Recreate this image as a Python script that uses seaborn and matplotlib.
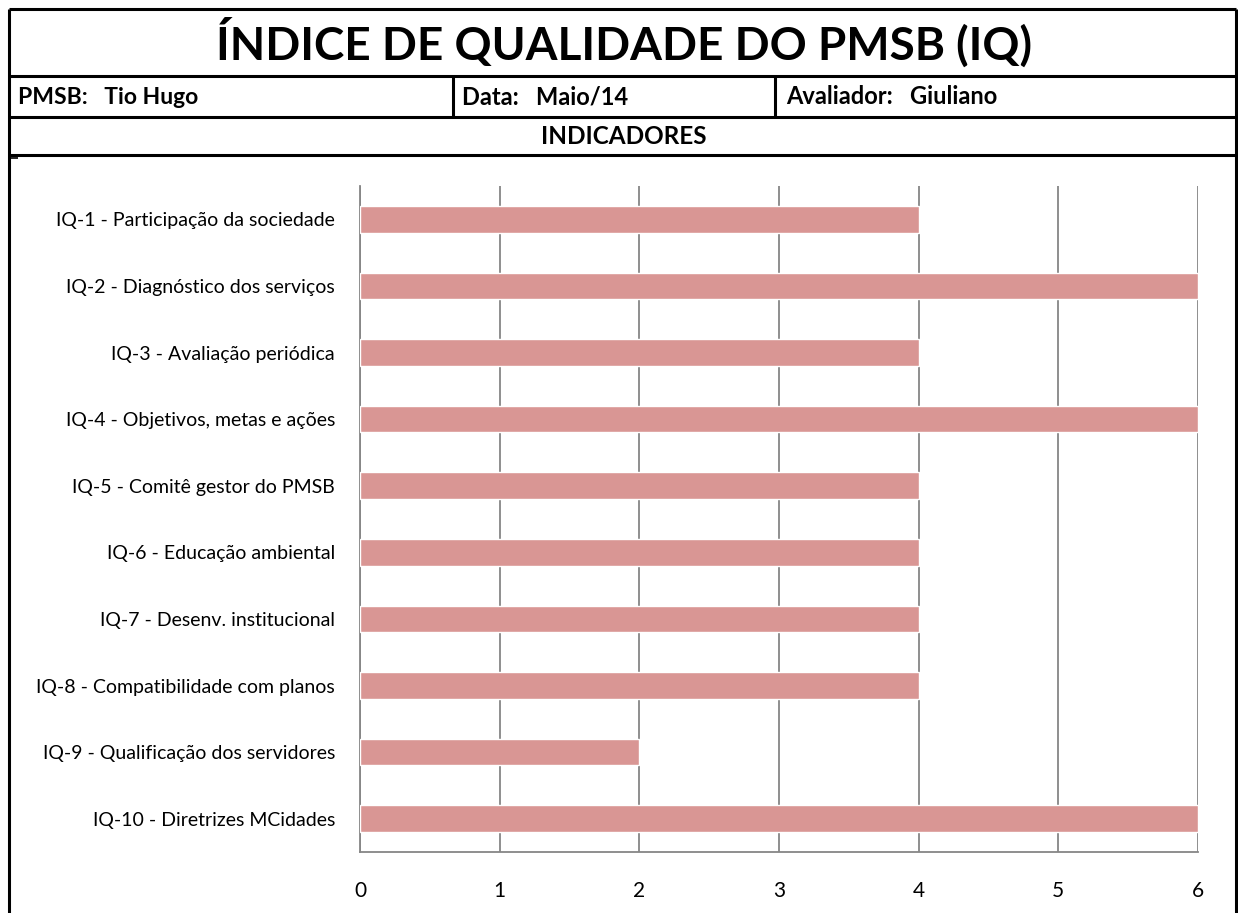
import matplotlib
matplotlib.use("Agg")
import matplotlib.pyplot as plt
import seaborn as sns
from matplotlib.lines import Line2D

# data
indicadores = [
    "IQ-1 - Participação da sociedade",
    "IQ-2 - Diagnóstico dos serviços",
    "IQ-3 - Avaliação periódica",
    "IQ-4 - Objetivos, metas e ações",
    "IQ-5 - Comitê gestor do PMSB",
    "IQ-6 - Educação ambiental",
    "IQ-7 - Desenv. institucional",
    "IQ-8 - Compatibilidade com planos",
    "IQ-9 - Qualificação dos servidores",
    "IQ-10 - Diretrizes MCidades",
]
notas = [4, 6, 4, 6, 4, 4, 4, 4, 2, 6]
x_ticks = [0, 1, 2, 3, 4, 5, 6]

titulo = "ÍNDICE DE QUALIDADE DO PMSB (IQ)"
pmsb = "PMSB:   Tio Hugo"
data_txt = "Data:   Maio/14"
avaliador = "Avaliador:   Giuliano"
secao = "INDICADORES"

sns.set_theme(style="white")
plt.rcParams['font.family'] = ['Lato', 'DejaVu Sans']
plt.rcParams['text.color'] = 'black'
plt.rcParams['xtick.color'] = 'black'
plt.rcParams['ytick.color'] = 'black'

W, H = 1238, 913
fig = plt.figure(figsize=(W / 100, H / 100), dpi=100)


def fx(x):
    return x / W


def fy(y):
    return 1 - y / H


def linha(x0, y0, x1, y1, lw=2.2):
    fig.add_artist(Line2D([fx(x0), fx(x1)], [fy(y0), fy(y1)], color='black',
                          lw=lw, transform=fig.transFigure, solid_capstyle='butt'))


# frame of the sheet
linha(9, 9, 1236, 9)
linha(9, 9, 9, 913)
linha(1236, 9, 1236, 913)
linha(9, 76, 1236, 76)
linha(9, 117, 1236, 117)
linha(9, 155, 1236, 155)
linha(453, 76, 453, 117)
linha(775, 76, 775, 117)
linha(9, 158, 18, 158, lw=1.2)

fig.text(fx(624), fy(43), titulo, ha='center', va='center',
         fontsize=33, fontweight='bold')
fig.text(fx(18), fy(97), pmsb, ha='left', va='center', fontsize=16.5, fontweight='bold')
fig.text(fx(462), fy(97), data_txt, ha='left', va='center', fontsize=17, fontweight='bold')
fig.text(fx(786), fy(97), avaliador, ha='left', va='center', fontsize=17, fontweight='bold')
fig.text(fx(624), fy(137), secao, ha='center', va='center', fontsize=17.5, fontweight='bold')

# bar chart
ax = fig.add_axes([fx(360), fy(852), (1198 - 360) / W, (852 - 186) / H])
sns.barplot(x=notas, y=indicadores, orient='h', color='#D99694',
            saturation=1, width=0.4, ax=ax, zorder=3)
ax.set_xlim(0, 6)
ax.set_ylim(len(indicadores) - 0.5, -0.5)
ax.set_xticks(x_ticks)
ax.set_xticklabels([str(t) for t in x_ticks], fontsize=15)
ax.tick_params(axis='y', labelsize=14, length=0, pad=18)
ax.set_yticks([i - 0.5 for i in range(len(indicadores) + 1)], minor=True)
ax.tick_params(axis='y', which='minor', length=7, width=1.2, color='#868686', direction='out')
ax.tick_params(axis='x', length=7, width=1.2, color='#868686', labelcolor='black',
               direction='out', pad=14)
ax.grid(axis='x', color='#868686', lw=1.3, zorder=0)
ax.set_axisbelow(True)
for s in ['top', 'right']:
    ax.spines[s].set_visible(False)
for s in ['left', 'bottom']:
    ax.spines[s].set_color('#868686')
    ax.spines[s].set_linewidth(1.3)
ax.set_xlabel('')
ax.set_ylabel('')

fig.savefig('out.png', dpi=100)
